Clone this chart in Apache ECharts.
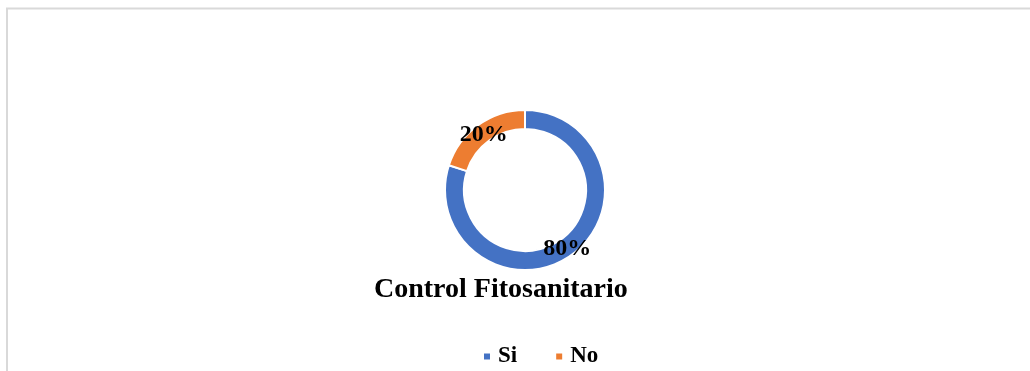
<!DOCTYPE html>
<html>
<head>
<meta charset="utf-8">
<script src="https://cdn.jsdelivr.net/npm/echarts@6/dist/echarts.min.js"></script>
<style>
html,body{margin:0;padding:0;background:#fff;}
#c{width:1030px;height:371px;}
</style>
</head>
<body>
<div id="c"></div>
<script>
var categories = ['Si', 'No'];
var values = [80, 20];
var colors = ['#4472C4', '#ED7D31'];
var titleText = 'Control Fitosanitario';
var labelOffsets = [[-1, -1], [2, 4]];

var chart = echarts.init(document.getElementById('c'), null, {renderer: 'canvas'});
var font = '"Liberation Serif", "Times New Roman", serif';
chart.setOption({
  animation: false,
  backgroundColor: '#fff',
  graphic: [{
    type: 'rect',
    shape: {x: 7, y: 8.5, width: 1100, height: 500},
    style: {fill: 'none', stroke: '#d9d9d9', lineWidth: 2},
    silent: true
  }],
  title: {
    text: titleText,
    left: 374,
    top: 276,
    padding: 0,
    textStyle: {fontFamily: font, fontWeight: 'bold', fontSize: 28, lineHeight: 28, color: '#000'}
  },
  legend: {
    data: categories,
    left: 482,
    top: 345,
    padding: 0,
    itemWidth: 8,
    itemHeight: 8,
    itemGap: 37,
    icon: 'rect',
    textStyle: {fontFamily: font, fontWeight: 'bold', fontSize: 23, color: '#000', padding: [0, 0, 0, 2]}
  },
  series: [{
    type: 'pie',
    center: [525, 190],
    radius: [61, 80],
    startAngle: 90,
    clockwise: true,
    avoidLabelOverlap: false,
    itemStyle: {borderColor: '#fff', borderWidth: 2},
    label: {
      show: true,
      position: 'inside',
      formatter: '{d}%',
      fontFamily: font,
      fontWeight: 'bold',
      fontSize: 24,
      color: '#000'
    },
    labelLine: {show: false},
    data: categories.map(function (c, i) {
      return {name: c, value: values[i], itemStyle: {color: colors[i]}, label: {offset: labelOffsets[i]}};
    })
  }]
});
</script>
</body>
</html>
